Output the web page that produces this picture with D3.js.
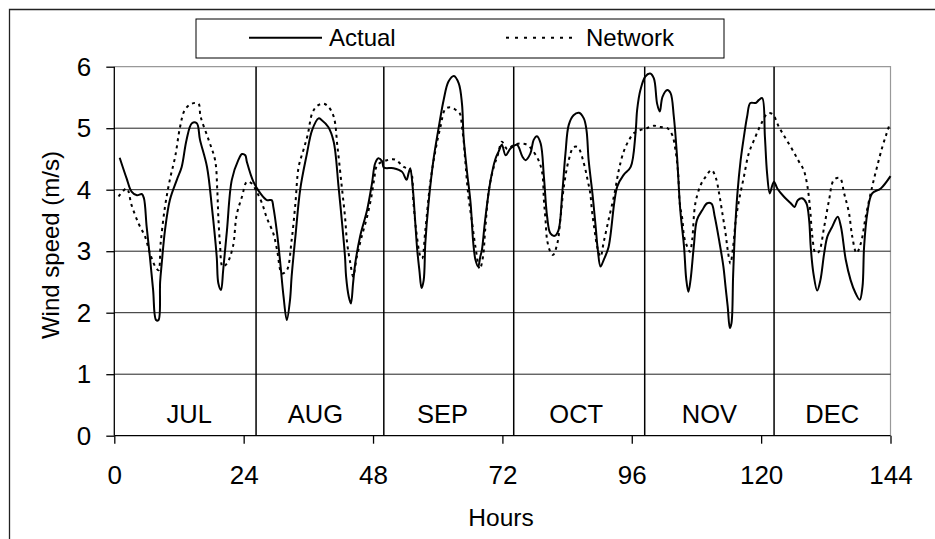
<!DOCTYPE html>
<html><head><meta charset="utf-8">
<script src="https://cdn.jsdelivr.net/npm/d3@7"></script>
<style>
html,body{margin:0;padding:0;background:#fff;}
svg{display:block;font-family:Arial,"Liberation Sans",sans-serif;}
</style></head>
<body>
<svg id="chart" width="935" height="539"></svg>
<script>
// ---- data ----
const xTicks = [0, 24, 48, 72, 96, 120, 144];
const yTicks = [0, 1, 2, 3, 4, 5, 6];
const months = ["JUL", "AUG", "SEP", "OCT", "NOV", "DEC"];
const monthLabelHours = [13.9, 37.3, 60.9, 85.7, 110.4, 133.2];
const monthBoundaries = [26.3, 50, 74.1, 98.4, 122.4];
const seriesNames = ["Actual", "Network"];

const actualHours = [1.0,2.3,3.2,4.2,5.1,5.5,6.0,6.6,7.2,7.75,8.2,8.5,8.8,9.4,10.3,11.6,12.5,13.4,14.4,15.3,15.9,17.2,18.1,19.0,19.3,19.8,20.2,20.9,21.8,23.0,23.7,24.3,24.6,25.8,27.1,28.3,29.2,29.5,30.2,30.8,31.4,32.0,32.6,32.9,33.6,34.5,35.7,36.7,37.9,38.5,39.7,40.7,41.6,42.2,42.8,43.0,43.5,43.9,44.3,44.7,45.6,46.9,47.8,48.4,49.0,49.7,50.0,51.8,53.4,54.2,54.6,54.9,55.4,55.8,56.2,56.6,57.0,57.4,57.7,58.3,59.2,60.2,61.1,62.0,63.0,63.9,64.5,64.8,65.4,66.1,66.6,67.0,67.5,67.9,68.2,68.8,69.8,70.7,71.3,71.9,72.6,73.5,74.7,75.7,76.3,77.2,77.8,78.4,79.1,79.7,80.3,80.9,81.7,82.4,83.1,83.7,84.3,85.2,86.2,87.1,87.6,88.0,88.7,89.3,89.7,90.2,90.8,91.7,93.3,94.5,95.8,96.7,97.0,97.6,98.5,99.4,100.1,100.7,101.2,101.7,102.6,103.2,103.8,104.4,105.0,105.7,106.1,106.5,106.9,107.5,108.1,109.1,110.0,110.8,111.4,112.2,113.0,113.4,113.8,114.2,114.5,114.8,115.1,115.6,116.2,116.8,117.4,118.0,119.0,119.6,120.2,120.7,121.1,121.6,122.1,122.4,123.0,124.2,125.5,126.2,126.8,127.6,128.4,128.9,129.2,129.7,130.4,131.0,131.7,132.3,133.2,134.2,134.8,135.7,136.6,137.5,138.3,138.8,139.1,139.7,140.6,142.2,144.0];
const actualValues = [4.52,4.18,3.97,3.91,3.93,3.86,3.40,2.91,2.37,1.88,1.88,2.50,2.80,3.34,3.83,4.16,4.37,4.81,5.08,5.08,4.81,4.37,3.72,2.91,2.48,2.37,2.69,3.34,4.16,4.48,4.58,4.56,4.45,4.13,3.94,3.83,3.83,3.72,3.29,2.80,2.26,1.88,2.21,2.59,3.24,4.01,4.57,4.97,5.16,5.13,5.02,4.78,4.05,3.51,2.91,2.59,2.26,2.15,2.48,2.80,3.24,3.67,4.10,4.43,4.51,4.46,4.36,4.35,4.29,4.16,4.27,4.35,4.00,3.51,3.02,2.69,2.40,2.53,3.13,3.78,4.48,5.02,5.46,5.76,5.85,5.73,5.40,4.86,4.32,3.78,3.13,2.86,2.75,2.91,3.02,3.51,4.15,4.50,4.62,4.73,4.56,4.67,4.73,4.54,4.48,4.59,4.81,4.87,4.75,4.21,3.56,3.29,3.25,3.34,3.94,4.59,5.05,5.21,5.25,5.16,4.97,4.48,3.94,3.40,3.02,2.75,2.86,3.07,4.05,4.24,4.37,4.92,5.30,5.62,5.84,5.89,5.81,5.40,5.27,5.51,5.62,5.57,5.19,4.54,3.67,3.07,2.55,2.34,2.53,3.07,3.51,3.67,3.78,3.77,3.56,3.18,2.75,2.42,2.10,1.75,1.83,2.59,3.24,3.94,4.48,4.86,5.19,5.41,5.41,5.46,5.49,4.86,4.27,3.94,4.08,4.13,4.02,3.89,3.78,3.72,3.83,3.86,3.78,3.51,3.07,2.64,2.36,2.53,2.97,3.24,3.40,3.56,3.40,2.86,2.53,2.32,2.21,2.42,3.07,3.62,3.94,4.02,4.22];

const networkHours = [0.8,2.3,3.2,4.5,5.7,6.6,7.6,8.2,8.6,9.4,10.3,11.3,12.2,13.1,14.4,15.6,16.0,17.5,18.7,19.1,19.3,19.6,20.1,20.9,22.0,22.7,23.7,24.6,25.5,26.4,27.4,28.3,29.5,30.2,31.1,32.0,32.9,33.6,34.2,35.1,35.9,36.7,37.6,38.8,39.7,40.7,41.4,42.2,42.8,43.2,43.8,44.3,45.0,45.9,46.9,47.7,48.2,48.8,50.6,52.1,53.7,54.9,55.5,56.0,56.8,57.1,57.7,58.6,59.6,60.5,61.4,62.3,63.3,64.1,64.5,64.8,65.1,65.7,66.4,67.0,67.8,68.4,68.8,69.5,70.4,71.2,71.9,72.9,74.1,75.3,76.6,77.5,78.7,79.4,79.7,80.0,80.3,80.9,81.4,82.2,82.8,83.4,84.3,85.2,86.0,87.1,87.8,88.3,88.6,89.1,89.6,90.2,90.8,91.7,92.8,93.6,94.5,95.5,96.4,97.6,98.8,100.1,101.3,102.6,103.5,104.1,104.6,104.9,105.4,105.7,106.3,106.8,107.2,107.8,108.8,109.7,110.8,111.6,112.2,112.8,113.4,113.8,114.3,114.8,115.3,115.9,116.8,117.7,118.7,119.9,121.2,122.1,123.3,124.5,125.8,127.0,127.9,128.6,129.1,129.5,130.1,130.7,131.7,132.6,133.5,134.6,135.4,136.3,136.9,137.7,138.5,139.4,140.6,141.5,142.5,143.3,143.9];
const networkValues = [3.89,4.02,3.75,3.45,3.24,2.97,2.75,2.69,3.13,3.72,4.16,4.54,5.02,5.30,5.40,5.40,5.19,4.81,4.48,4.00,3.56,3.13,2.75,2.80,3.07,3.59,3.89,4.13,4.10,3.97,3.78,3.54,3.29,3.02,2.64,2.69,3.18,3.78,4.37,4.65,4.90,5.24,5.36,5.40,5.35,5.19,4.70,4.05,3.56,3.13,2.80,2.59,2.91,3.24,3.56,3.89,4.16,4.40,4.48,4.49,4.37,4.32,3.78,3.34,2.91,2.88,3.34,4.10,4.65,5.02,5.31,5.34,5.30,5.24,5.02,4.81,4.48,3.89,3.45,3.07,2.71,2.91,3.34,4.00,4.37,4.58,4.78,4.66,4.73,4.75,4.73,4.65,4.48,4.27,3.83,3.51,3.18,2.99,2.94,3.13,3.56,4.05,4.48,4.69,4.69,4.43,4.16,3.94,3.67,3.34,3.07,2.91,3.15,3.51,3.94,4.32,4.62,4.81,4.92,4.97,5.00,5.04,5.02,5.00,4.89,4.65,4.27,3.78,3.51,3.24,3.07,2.99,3.18,3.78,4.08,4.21,4.32,4.19,3.94,3.62,3.29,3.02,2.80,3.07,3.51,3.83,4.21,4.59,4.81,5.05,5.24,5.23,5.02,4.84,4.65,4.46,4.32,4.05,3.67,3.24,2.97,2.99,3.40,3.83,4.16,4.19,3.94,3.62,3.24,2.97,3.13,3.56,4.05,4.37,4.70,4.92,5.08];

// ---- drawing ----
const svg = d3.select("#chart");
const TICK_FONT = 26, MONTH_FONT = 25.5, TITLE_FONT = 24.5, LEGEND_FONT = 24;
const plotL = 114.3, plotR = 890.5, plotT = 66.7, plotB = 435.7;
const x = d3.scaleLinear().domain([0, 144]).range([plotL, plotR]);
const y = d3.scaleLinear().domain([0, 6]).range([plotB, plotT]);

svg.append("rect").attr("width", 935).attr("height", 539).attr("fill", "#fff");

// outer chart border (left and top visible)
svg.append("path").attr("d", "M9.5,539 L9.5,9.5 L935,9.5")
  .attr("fill", "none").attr("stroke", "#222").attr("stroke-width", 1.3);

// plot area border (gray top/right)
svg.append("path").attr("d", `M${plotL},${plotT} L${plotR},${plotT} L${plotR},${plotB}`)
  .attr("fill", "none").attr("stroke", "#999").attr("stroke-width", 1.2);

// horizontal gridlines
svg.append("g").selectAll("line").data(yTicks.filter(d => d > 0 && d < 6)).join("line")
  .attr("x1", plotL).attr("x2", plotR)
  .attr("y1", d => y(d)).attr("y2", d => y(d))
  .attr("stroke", "#222").attr("stroke-width", 1);

// month separators
svg.append("g").selectAll("line").data(monthBoundaries).join("line")
  .attr("x1", d => x(d)).attr("x2", d => x(d))
  .attr("y1", plotT).attr("y2", plotB)
  .attr("stroke", "#000").attr("stroke-width", 1.5);

// month labels
svg.append("g").selectAll("text").data(months).join("text")
  .attr("x", (d, i) => x(monthLabelHours[i])).attr("y", 423)
  .attr("text-anchor", "middle").attr("font-size", MONTH_FONT).attr("fill", "#000")
  .text(d => d);

// axes
const yAxis = svg.append("g").attr("transform", `translate(${plotL},0)`)
  .call(d3.axisLeft(y).tickValues(yTicks).tickSize(8).tickPadding(15).tickFormat(d3.format("d")));
const xAxis = svg.append("g").attr("transform", `translate(0,${plotB})`)
  .call(d3.axisBottom(x).tickValues(xTicks).tickSize(8).tickPadding(22).tickFormat(d3.format("d")));
[yAxis, xAxis].forEach(g => {
  g.select(".domain").attr("stroke", "#000").attr("stroke-width", 1.3);
  g.selectAll(".tick line").attr("stroke", "#000").attr("stroke-width", 1.3);
  g.selectAll(".tick text").attr("font-size", TICK_FONT).attr("fill", "#000")
    .attr("font-family", "Arial, 'Liberation Sans', sans-serif");
});
yAxis.select(".domain").attr("d", `M0,${plotB}V${plotT}`);
xAxis.select(".domain").attr("d", `M${plotL},0H${plotR}`);

// axis titles
svg.append("text").attr("x", 501).attr("y", 526).attr("text-anchor", "middle")
  .attr("font-size", TITLE_FONT).attr("fill", "#000").text("Hours");
svg.append("text").attr("transform", "translate(59,245) rotate(-90)")
  .attr("text-anchor", "middle").attr("font-size", LEGEND_FONT).attr("fill", "#000")
  .text("Wind speed (m/s)");

// lines
const actual = actualHours.map((h, i) => [h, actualValues[i]]);
const network = networkHours.map((h, i) => [h, networkValues[i]]);
const line = d3.line().x(d => x(d[0])).y(d => y(d[1])).curve(d3.curveCatmullRom.alpha(0.5));

svg.append("path").datum(network).attr("d", line)
  .attr("fill", "none").attr("stroke", "#000").attr("stroke-width", 2)
  .attr("stroke-dasharray", "3,4");
svg.append("path").datum(actual).attr("d", line)
  .attr("fill", "none").attr("stroke", "#000").attr("stroke-width", 2)
  .attr("stroke-linejoin", "round");

// legend
const lg = svg.append("g");
lg.append("rect").attr("x", 196).attr("y", 19).attr("width", 528).attr("height", 39)
  .attr("fill", "#fff").attr("stroke", "#000").attr("stroke-width", 1);
const legendItems = [
  {name: seriesNames[0], x1: 249, x2: 322, tx: 329, dash: null},
  {name: seriesNames[1], x1: 506, x2: 578, tx: 586, dash: "3,6"}
];
legendItems.forEach(it => {
  lg.append("line").attr("x1", it.x1).attr("x2", it.x2).attr("y1", 37.7).attr("y2", 37.7)
    .attr("stroke", "#000").attr("stroke-width", 2)
    .attr("stroke-dasharray", it.dash);
  lg.append("text").attr("x", it.tx).attr("y", 46).attr("font-size", LEGEND_FONT).attr("fill", "#000")
    .text(it.name);
});
</script>
</body></html>
